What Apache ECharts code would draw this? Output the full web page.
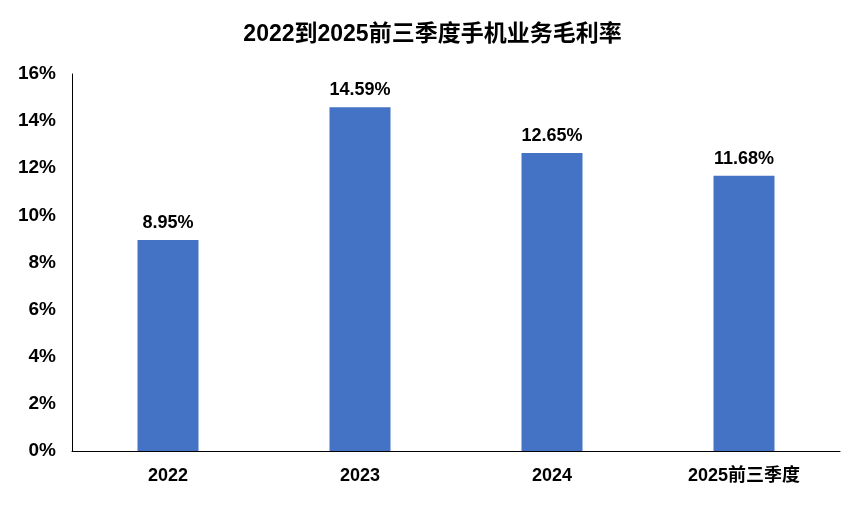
<!DOCTYPE html>
<html><head><meta charset="utf-8">
<script src="https://cdn.jsdelivr.net/npm/echarts@6/dist/echarts.min.js"></script>
<style>html,body{margin:0;padding:0;background:#fff}#c{width:865px;height:505px}</style>
</head><body><div id="c"></div>
<script>
const title = '2022到2025前三季度手机业务毛利率';
const categories = ['2022','2023','2024','2025前三季度'];
const values = [8.95, 14.59, 12.65, 11.68];
const chart = echarts.init(document.getElementById('c'));
const font = '"Liberation Sans","Noto Sans CJK SC",sans-serif';
chart.setOption({
  animation:false,
  title:{text:title,left:'center',top:18,textStyle:{fontFamily:font,fontSize:23,fontWeight:'bold',color:'#000'}},
  grid:{left:72,right:25,top:74,bottom:54},
  xAxis:{type:'category',data:categories,
    axisLine:{lineStyle:{color:'#000'}},axisTick:{show:false},
    axisLabel:{color:'#000',fontFamily:font,fontSize:18,fontWeight:'bold',margin:16}},
  yAxis:{type:'value',min:0,max:16,interval:2,
    axisLine:{show:true,lineStyle:{color:'#000'}},axisTick:{show:false},splitLine:{show:false},
    axisLabel:{color:'#000',fontFamily:font,fontSize:19,fontWeight:'bold',formatter:'{value}%',margin:16}},
  series:[{type:'bar',data:values,barWidth:61,itemStyle:{color:'#4472C4'},
    label:{show:true,position:'top',distance:8,formatter:p=>p.value.toFixed(2)+'%',
      color:'#000',fontFamily:font,fontSize:18,fontWeight:'bold'}}]
});
</script></body></html>
